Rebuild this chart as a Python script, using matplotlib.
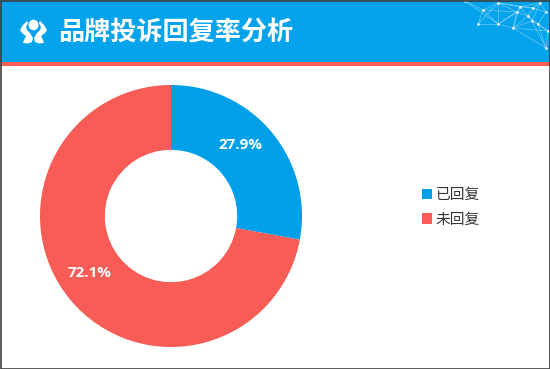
import matplotlib
matplotlib.use('Agg')
import matplotlib.pyplot as plt
from matplotlib.patches import Rectangle, Ellipse, Polygon
from matplotlib.lines import Line2D

plt.rcParams['font.family'] = ['Noto Sans CJK SC', 'DejaVu Sans']

title = '品牌投诉回复率分析'
categories = ['已回复', '未回复']
values = [27.9, 72.1]
colors = ['#00A0E9', '#F75C57']

W, H = 550, 369
fig = plt.figure(figsize=(W / 100, H / 100), dpi=100, facecolor='white')

# overlay in pixel coordinates (y down)
bg = fig.add_axes([0, 0, 1, 1])
bg.set_xlim(0, W)
bg.set_ylim(H, 0)
bg.axis('off')
bg.add_patch(Rectangle((0, 0), W, 62, fc='#04A3EC', ec='none'))
bg.add_patch(Rectangle((0, 61.5), W, 4.5, fc='#F75C57', ec='none'))

# network decoration, top right of the banner
nodes = [(465, 1), (483, 10), (498, 3), (513, 28), (498, 24), (520, 7), (533, 8),
         (528, 16), (532, 21), (548, 31), (546, 48), (478, 24), (540, 3), (546, 12), (538, 24), (517, 12)]
edges = [(0, 1), (1, 2), (2, 5), (1, 11), (1, 4), (2, 4), (4, 3), (3, 7), (5, 6), (5, 7), (6, 7),
         (7, 8), (8, 9), (9, 10), (3, 9), (3, 10), (2, 6), (6, 13), (12, 6), (12, 13), (7, 14),
         (13, 14), (8, 10), (5, 3), (11, 4), (14, 9), (12, 8), (0, 4), (15, 5), (15, 7), (15, 3),
         (15, 2), (15, 4), (11, 2), (4, 15), (8, 3), (5, 12), (14, 10), (1, 15)]
for a, b in edges:
    bg.add_line(Line2D([nodes[a][0], nodes[b][0]], [nodes[a][1], nodes[b][1]],
                       color='white', lw=0.7, alpha=0.3))
bg.scatter([n[0] for n in nodes], [n[1] for n in nodes], s=4, color='white', alpha=0.8, lw=0)

# logo
bg.add_patch(Ellipse((33.5, 25), 10, 10.5, fc='white', ec='none'))
bg.add_patch(Polygon([(27, 21), (23, 25), (20, 30), (22, 33), (26, 36), (24, 40), (23, 43), (28, 43.5),
                      (32, 42), (33, 38), (30, 33), (27, 30), (26, 27), (28, 23)], fc='white', ec='none'))
bg.add_patch(Polygon([(40, 21), (44, 25), (47, 30), (45, 33), (41, 36), (43, 40), (44, 43), (39, 43.5),
                      (35, 42), (34, 38), (37, 33), (40, 30), (41, 27), (39, 23)], fc='white', ec='none'))

bg.text(58.5, 32, title, color='white', fontsize=18.8, fontweight='bold', va='center', ha='left')

# frame
bg.add_patch(Rectangle((0.5, 0.5), W - 1, H - 1, fc='none', ec='#404040', lw=1.2, zorder=10))

# doughnut
cx, cy, r = 171, 216, 131
ax = fig.add_axes([(cx - r) / W, 1 - (cy + r) / H, 2 * r / W, 2 * r / H])
ax.patch.set_alpha(0)
wedges, _, autotexts = ax.pie(values, colors=colors, startangle=90, counterclock=False, radius=1,
                              wedgeprops=dict(width=0.495, edgecolor='none', linewidth=0),
                              autopct='%.1f%%', pctdistance=0.75)
ax.set_xlim(-1, 1)
ax.set_ylim(-1, 1)
label_offsets = [(0.527, 0.545), (-0.618, -0.432)]
for t, pos in zip(autotexts, label_offsets):
    t.set_position(pos)
    t.set_color('white')
    t.set_fontsize(10.9)
    t.set_fontweight('bold')
    t.set_family('Open Sans')

handles = [Rectangle((0, 0), 1, 1, fc=c, ec='none') for c in colors]
fig.legend(handles, categories, loc='center left', bbox_to_anchor=(421.5 / W, 1 - 207.5 / H),
           frameon=False, fontsize=10.6, handlelength=0.72, handleheight=0.72, handletextpad=0.25,
           labelspacing=0.72, labelcolor='#333333', borderpad=0, borderaxespad=0)

fig.savefig('out.png', dpi=100)
